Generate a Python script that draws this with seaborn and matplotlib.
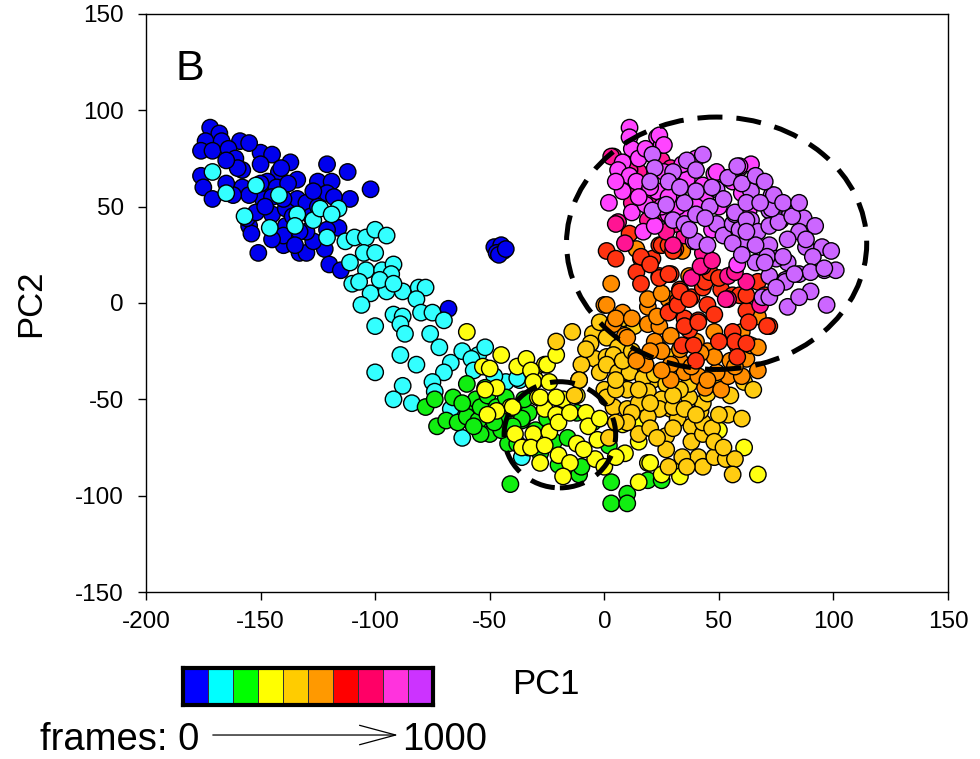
import numpy as np
import pandas as pd
import matplotlib
matplotlib.use("Agg")
import matplotlib.pyplot as plt
from matplotlib.patches import Ellipse, FancyArrowPatch
from matplotlib.colors import ListedColormap
import seaborn as sns

# ── data: PC1/PC2 projections, grouped by frame window (0 → 1000) ──
BLUE = [(-172, 91), (-168, 88), (-174, 84), (-167, 84), (-159, 84), (-176, 79), (-171, 79), (-164, 80),
        (-161, 75), (-150, 78), (-145, 77), (-137, 73), (-121, 72), (-176, 66), (-175, 60), (-171, 54),
        (-158, 69), (-150, 72), (-125, 63), (-119, 63), (-121, 57), (-111, 54), (-102, 59), (-151, 26),
        (-140, 30), (-133, 26), (-130, 26), (-122, 28), (-120, 20), (-115, 17), (-116, 39), (-121, 38),
        (-127, 32), (-130, 37), (-155, 40), (-154, 36), (-156, 44), (-152, 47), (-145, 46), (-139, 49),
        (-134, 54), (-130, 52), (-134, 64), (-142, 68), (-147, 63), (-149, 54), (-158, 60), (-155, 56),
        (-162, 56), (-140, 54), (-139, 40), (-140, 35), (-133, 37), (-143, 60), (-138, 62), (-145, 55),
        (-136, 45), (-128, 45), (-148, 50), (-160, 70), (-165, 62), (-165, 74), (-155, 83), (-141, 70),
        (-125, 50), (-118, 55), (-135, 30), (-145, 33), (-150, 62), (-127, 58), (-112, 68),
        (-68, -3), (-48, 29), (-45, 30), (-44, 27), (-47, 26), (-46, 25), (-43, 28)]
CYAN = [(-171, 68), (-165, 57), (-152, 61), (-142, 56), (-157, 45), (-146, 39), (-134, 46), (-135, 40),
        (-127, 43), (-124, 49), (-116, 49), (-119, 46), (-121, 34), (-113, 32), (-109, 34), (-104, 34),
        (-100, 38), (-95, 35), (-105, 26), (-100, 26), (-111, 21), (-104, 17), (-97, 17), (-92, 20),
        (-93, 15), (-110, 10), (-102, 5), (-95, 6), (-98, 12), (-107, 11), (-88, 6), (-92, 10), (-81, 8),
        (-78, 8), (-82, 2), (-106, -1), (-92, -6), (-88, -7), (-80, -5), (-75, -5), (-70, -9), (-89, -11),
        (-100, -12), (-87, -16), (-76, -16), (-72, -23), (-89, -27), (-82, -32), (-100, -36), (-67, -31),
        (-70, -36), (-62, -25), (-55, -27), (-52, -23), (-58, -29), (-88, -43), (-92, -50), (-84, -52),
        (-75, -41), (-74, -46), (-37, -40), (-43, -41), (-66, -57), (-62, -70), (-38, -39), (-36, -80),
        (-67, -55), (-48, -38), (-57, -35)]
GREEN = [(-78, -54), (-74, -50), (-73, -64), (-69, -61), (-66, -49), (-60, -42), (-60, -55), (-56, -50),
         (-52, -44), (-64, -62), (-60, -59), (-55, -61), (-54, -54), (-51, -48), (-47, -54), (-43, -49),
         (-39, -55), (-44, -61), (-50, -68), (-54, -68), (-36, -61), (-33, -57), (-41, -94), (-36, -60),
         (-42, -73), (-38, -73), (-20, -84), (-11, -89), (-10, -85), (3, -93), (3, -104), (10, -99),
         (10, -104), (2, -74), (-12, -57), (-30, -66), (-28, -78), (-25, -60), (-45, -66), (-33, -75),
         (19, -92), (25, -92), (-48, -62), (-57, -64), (-62, -52), (-35, -50), (-22, -72), (-16, -70),
         (-5, -62), (-40, -64)]
YELLOW = [(-60, -15), (-45, -27), (-53, -33), (-50, -34), (-47, -44), (-38, -33), (-34, -29), (-31, -36),
          (-30, -40), (-26, -32), (-29, -49), (-26, -55), (-41, -54), (-47, -56), (-51, -58), (-39, -68),
          (-31, -68), (-32, -35), (-31, -41), (-24, -41), (-25, -32), (-21, -27), (-52, -45), (-40, -54),
          (-36, -75), (-32, -75), (-28, -49), (-21, -58), (-18, -50), (-24, -67), (-20, -62), (-15, -57),
          (-26, -74), (-20, -79), (-15, -83), (-28, -83), (-18, -90), (-12, -73), (-8, -57), (-7, -64),
          (-3, -71), (-4, -81), (9, -78), (15, -93), (19, -83), (25, -89), (-11, -40), (-12, -48),
          (-21, -49), (20, -83), (33, -86), (33, -90), (50, -66), (61, -75), (67, -89), (8, -63),
          (14, -63), (15, -72), (-2, -60), (-9, -76), (0, -85), (5, -80)]
GOLD = [(-14, -15), (-5, -16), (-21, -20), (-6, -21), (-4, -29), (-10, -32), (-2, -36), (1, -28),
        (0, -45), (4, -54), (10, -55), (9, -36), (17, -32), (21, -40), (15, -68), (29, -55), (1, -18),
        (6, -23), (4, -27), (1, -32), (6, -36), (11, -36), (17, -39), (22, -37), (19, -46), (27, -42),
        (25, -50), (24, -55), (19, -59), (15, -52), (12, -57), (1, -49), (27, -69), (27, -76), (32, -60),
        (30, -54), (38, -64), (38, -72), (41, -80), (43, -85), (48, -80), (53, -81), (57, -81), (56, -89),
        (54, -58), (43, -68), (43, -62), (42, -56), (43, -52), (37, -49), (37, -42), (45, -47), (61, -41),
        (-11, -40), (-13, -48), (24, -24), (30, -28), (10, -45), (5, -45), (35, -55), (20, -65), (-8, -24),
        (13, -12), (8, -8), (48, -42), (55, -48), (30, -65), (23, -70), (10, -62), (5, -40), (15, -45),
        (33, -45), (40, -58), (47, -65), (50, -58), (34, -80), (36, -85), (28, -85), (60, -60), (65, -45),
        (20, -52), (8, -30), (12, -25), (-2, -10), (5, -62), (2, -70), (48, -72), (52, -75), (30, -48)]
ORANGE = [(0, -1), (4, -11), (9, -17), (14, -28), (19, -2), (19, -11), (24, -12), (29, -17), (18, -32),
          (14, -30), (10, -18), (33, -30), (35, -36), (41, -38), (44, -44), (51, -45), (54, -38), (49, -36),
          (62, -29), (67, -35), (58, -22), (64, -22), (29, -32), (22, -20), (29, -40), (14, 28), (19, 2),
          (28, 2), (34, 27), (37, 14), (67, -23), (67, -7), (1, -1), (25, -25), (45, -25), (55, -30),
          (40, -20), (8, -5), (23, -7), (48, -15), (60, -38), (57, -33), (48, -28), (38, -33), (25, -35),
          (20, -25), (33, -24), (42, -26), (5, -8), (12, -8), (60, -15), (25, 5), (3, 10), (45, -40)]
RED = [(1, 27), (5, 23), (11, 36), (16, 23), (21, 23), (14, 16), (16, 10), (24, 14), (29, 15), (24, 30),
       (27, 31), (31, 28), (33, 7), (32, 1), (38, 3), (43, 8), (45, 14), (29, -4), (35, -8), (41, -9),
       (45, -1), (48, -6), (51, 7), (56, -15), (57, -20), (37, -14), (34, -22), (39, -22), (28, -5),
       (32, -1), (35, -12), (41, -10), (62, -4), (63, -10), (72, -12), (62, -21), (58, -28), (71, -12),
       (56, 4), (59, 4), (16, 24), (25, 30), (28, 30), (30, 27), (24, 13), (28, 15), (33, 6), (37, 2),
       (44, 11), (46, 16), (50, 13), (62, 4), (67, 11), (70, 4), (20, 20), (40, -30), (50, -20)]
CRIMSON = [(4, 76), (11, 59), (12, 52), (6, 42), (25, 74), (29, 70), (15, 68), (35, 35), (31, 41), (27, 46),
           (19, 43), (38, 13), (43, 19), (54, 2), (44, 26), (54, 14), (62, 11), (68, -1), (3, 76), (5, 41),
           (9, 31), (43, 26), (42, 19), (47, 22), (57, 16), (53, 2), (11, 69), (12, 60), (27, 37), (20, 55),
           (30, 30)]
MAGENTA = [(11, 91), (11, 86), (12, 80), (23, 86), (25, 82), (8, 73), (6, 69), (11, 66), (14, 63), (2, 52),
           (12, 47), (18, 51), (23, 58), (17, 37), (26, 68), (36, 64), (43, 61), (48, 67), (52, 65), (44, 54),
           (32, 57), (40, 50), (28, 46), (39, 32), (24, 87), (26, 82), (59, 70), (64, 72), (49, 68), (57, 64),
           (22, 40), (59, 71), (56, 63), (60, 57), (63, 48), (30, 62), (20, 60), (35, 45), (47, 38), (58, 20),
           (15, 55), (8, 58), (5, 63), (15, 75), (18, 80), (34, 72), (40, 75), (32, 50), (25, 50), (50, 50),
           (28, 55)]
VIOLET = [(21, 77), (43, 77), (22, 70), (30, 68), (20, 63), (28, 63), (36, 74), (40, 69), (49, 59), (54, 65),
          (58, 71), (35, 52), (40, 58), (46, 50), (52, 54), (21, 48), (27, 51), (30, 43), (35, 41), (40, 46),
          (49, 41), (52, 35), (56, 41), (40, 32), (64, 58), (73, 56), (57, 46), (64, 43), (72, 48), (77, 43),
          (81, 46), (87, 44), (85, 37), (80, 33), (59, 38), (67, 37), (72, 40), (62, 31), (72, 30), (88, 29),
          (95, 29), (99, 27), (91, 24), (80, 21), (75, 23), (71, 24), (66, 21), (72, 14), (79, 12), (85, 15),
          (96, 17), (101, 17), (90, 16), (79, 11), (90, 6), (97, -1), (69, 3), (72, 3), (80, -2), (76, 42),
          (82, 45), (73, 49), (74, 56), (57, 47), (62, 43), (56, 31), (70, 21), (78, 24), (83, 15), (96, 18),
          (47, 60), (62, 52), (68, 52), (44, 44), (60, 62), (66, 66), (70, 63), (78, 52), (85, 52), (92, 40),
          (88, 33), (66, 30), (60, 25), (75, 8), (85, 3), (62, 37), (33, 60), (37, 38), (45, 30)]

GROUPS = ["blue", "cyan", "green", "yellow", "gold", "orange", "red", "crimson", "magenta", "violet"]
GROUP_POINTS = [BLUE, CYAN, GREEN, YELLOW, GOLD, ORANGE, RED, CRIMSON, MAGENTA, VIOLET]
POINT_COLORS = ["#0000EE", "#33FFFF", "#11EE11", "#FFFF11", "#FFCC11", "#FF8C00",
                "#FF3311", "#FF1493", "#FF44FF", "#CC66FF"]
BAR_COLORS = ["#0000FF", "#00FFFF", "#00FF00", "#FFFF00", "#FFCC00", "#FF9900",
              "#FF0000", "#FF0066", "#FF33DD", "#CC33FF"]

# ellipses (center, width, height) in PC units
BIG_ELLIPSE = ((49, 31), 131, 131)
SMALL_ELLIPSE = ((-19.4, -68.4), 48.7, 55.1)

rows = []
for name, pts in zip(GROUPS, GROUP_POINTS):
    for x, y in pts:
        rows.append({"PC1": x, "PC2": y, "bin": name})
df = pd.DataFrame(rows)

sns.set_style("white")
plt.rcParams["font.family"] = ["Liberation Sans", "DejaVu Sans"]
plt.rcParams["axes.unicode_minus"] = False
plt.rcParams["text.color"] = "black"

fig = plt.figure(figsize=(9.8, 7.59), dpi=100)
ax = fig.add_axes([0.149, 0.22, 0.8184, 0.7616])

sns.scatterplot(data=df, x="PC1", y="PC2", hue="bin", hue_order=GROUPS,
                palette=POINT_COLORS, s=140, edgecolor="black", linewidth=1,
                legend=False, ax=ax, zorder=3)

dash = (0, (5, 2.8))
for (c, w, h) in [BIG_ELLIPSE, SMALL_ELLIPSE]:
    ax.add_patch(Ellipse(c, w, h, fill=False, edgecolor="black", lw=3.6,
                         linestyle=dash, zorder=5))

ax.set_xlim(-200, 150)
ax.set_ylim(-150, 150)
ax.set_xticks(np.arange(-200, 151, 50))
ax.set_yticks(np.arange(-150, 151, 50))
ax.set_xlabel("")
ax.set_ylabel("")
for sp in ax.spines.values():
    sp.set_visible(True)
    sp.set_color("black")
    sp.set_linewidth(1.0)
ax.tick_params(axis="both", which="major", direction="out", length=6, width=1,
               labelsize=17.5, colors="black", labelcolor="black", bottom=True, left=True)
ax.tick_params(axis="x", pad=8)
ax.tick_params(axis="y", pad=10)

ax.text(0.037, 0.886, "B", transform=ax.transAxes, fontsize=31, va="baseline", ha="left", color="black")
fig.text(0.0316, 0.6008, "PC2", rotation=90, fontsize=25, ha="center", va="center", color="black")
fig.text(0.557, 0.0988, "PC1", fontsize=25, ha="center", va="center", color="black")

# colour key for the frame windows
cax = fig.add_axes([0.1867, 0.0711, 0.2551, 0.0487])
sns.heatmap(np.arange(10).reshape(1, 10), cmap=ListedColormap(BAR_COLORS), cbar=False,
            linewidths=0.6, linecolor="#333333", xticklabels=False, yticklabels=False, ax=cax)
for sp in cax.spines.values():
    sp.set_visible(True)
    sp.set_linewidth(3)
    sp.set_color("black")

fig.text(0.0408, 0.0119, "frames: 0", fontsize=27.5, ha="left", va="baseline", color="black")
fig.text(0.410, 0.0119, "1000", fontsize=27.5, ha="left", va="baseline", color="black")
fig.add_artist(FancyArrowPatch(
    (0.2143, 0.0316), (0.409, 0.0316), transform=fig.transFigure,
    arrowstyle="->,head_length=1.3,head_width=0.35", mutation_scale=20, lw=0.9, color="black"))

fig.savefig("out.png", dpi=100)
